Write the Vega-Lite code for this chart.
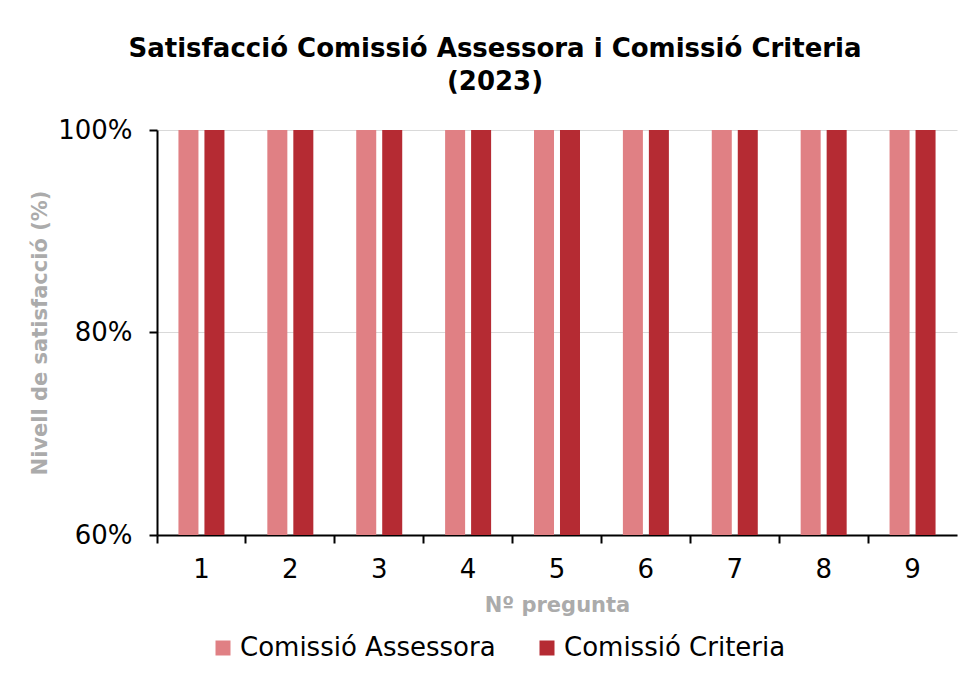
{
  "$schema": "https://vega.github.io/schema/vega-lite/v6.json",
  "width": 800,
  "height": 405,
  "padding": {"left": 29, "top": 36, "right": 16, "bottom": 10},
  "background": "white",
  "title": {
    "text": ["Satisfacció Comissió Assessora i Comissió Criteria", "(2023)"],
    "font": "DejaVu Sans",
    "fontSize": 26,
    "fontWeight": "bold",
    "color": "black",
    "anchor": "middle",
    "dx": -62,
    "lineHeight": 33,
    "offset": 22
  },
  "data": {
    "values": [
      {"pregunta": "1", "comissio": "Comissió Assessora", "valor": 1.0},
      {"pregunta": "1", "comissio": "Comissió Criteria", "valor": 1.0},
      {"pregunta": "2", "comissio": "Comissió Assessora", "valor": 1.0},
      {"pregunta": "2", "comissio": "Comissió Criteria", "valor": 1.0},
      {"pregunta": "3", "comissio": "Comissió Assessora", "valor": 1.0},
      {"pregunta": "3", "comissio": "Comissió Criteria", "valor": 1.0},
      {"pregunta": "4", "comissio": "Comissió Assessora", "valor": 1.0},
      {"pregunta": "4", "comissio": "Comissió Criteria", "valor": 1.0},
      {"pregunta": "5", "comissio": "Comissió Assessora", "valor": 1.0},
      {"pregunta": "5", "comissio": "Comissió Criteria", "valor": 1.0},
      {"pregunta": "6", "comissio": "Comissió Assessora", "valor": 1.0},
      {"pregunta": "6", "comissio": "Comissió Criteria", "valor": 1.0},
      {"pregunta": "7", "comissio": "Comissió Assessora", "valor": 1.0},
      {"pregunta": "7", "comissio": "Comissió Criteria", "valor": 1.0},
      {"pregunta": "8", "comissio": "Comissió Assessora", "valor": 1.0},
      {"pregunta": "8", "comissio": "Comissió Criteria", "valor": 1.0},
      {"pregunta": "9", "comissio": "Comissió Assessora", "valor": 1.0},
      {"pregunta": "9", "comissio": "Comissió Criteria", "valor": 1.0}
    ]
  },
  "mark": {"type": "bar", "clip": true},
  "encoding": {
    "x": {
      "field": "pregunta",
      "type": "ordinal",
      "scale": {"paddingInner": 0, "paddingOuter": 0},
      "axis": {
        "title": "Nº pregunta",
        "titleFont": "DejaVu Sans",
        "titleFontSize": 21,
        "titleFontWeight": "bold",
        "titleColor": "#ABABAB",
        "titlePadding": 12,
        "labelFont": "DejaVu Sans",
        "labelFontSize": 26,
        "labelColor": "black",
        "labelAngle": 0,
        "labelPadding": 13,
        "bandPosition": 0,
        "domainColor": "black",
        "domainWidth": 2,
        "tickColor": "black",
        "tickWidth": 2,
        "tickSize": 8,
        "grid": false
      }
    },
    "xOffset": {
      "field": "comissio",
      "type": "nominal",
      "scale": {"paddingInner": 0.23, "paddingOuter": 0.825}
    },
    "y": {
      "field": "valor",
      "type": "quantitative",
      "scale": {"domain": [0.6, 1.0], "zero": false, "nice": false},
      "axis": {
        "title": "Nivell de satisfacció (%)",
        "titleFont": "DejaVu Sans",
        "titleFontSize": 21,
        "titleFontWeight": "bold",
        "titleColor": "#ABABAB",
        "titlePadding": 7,
        "format": ".0%",
        "values": [0.6, 0.8, 1.0],
        "labelFont": "DejaVu Sans",
        "labelFontSize": 26,
        "labelColor": "black",
        "labelPadding": 17,
        "domainColor": "black",
        "domainWidth": 2,
        "tickColor": "black",
        "tickWidth": 2,
        "tickSize": 8,
        "grid": true,
        "gridColor": "#D9D9D9",
        "gridWidth": 1
      }
    },
    "color": {
      "field": "comissio",
      "type": "nominal",
      "scale": {
        "domain": ["Comissió Assessora", "Comissió Criteria"],
        "range": ["#E08084", "#B52B33"]
      },
      "legend": {
        "title": null,
        "orient": "none",
        "legendX": 53,
        "legendY": 505,
        "direction": "horizontal",
        "symbolType": "square",
        "symbolSize": 225,
        "symbolStrokeWidth": 0,
        "symbolOpacity": 1,
        "labelFont": "DejaVu Sans",
        "labelFontSize": 26,
        "labelColor": "black",
        "labelLimit": 400,
        "labelOffset": 4,
        "columnPadding": 38
      }
    }
  },
  "config": {
    "view": {"stroke": null}
  }
}
